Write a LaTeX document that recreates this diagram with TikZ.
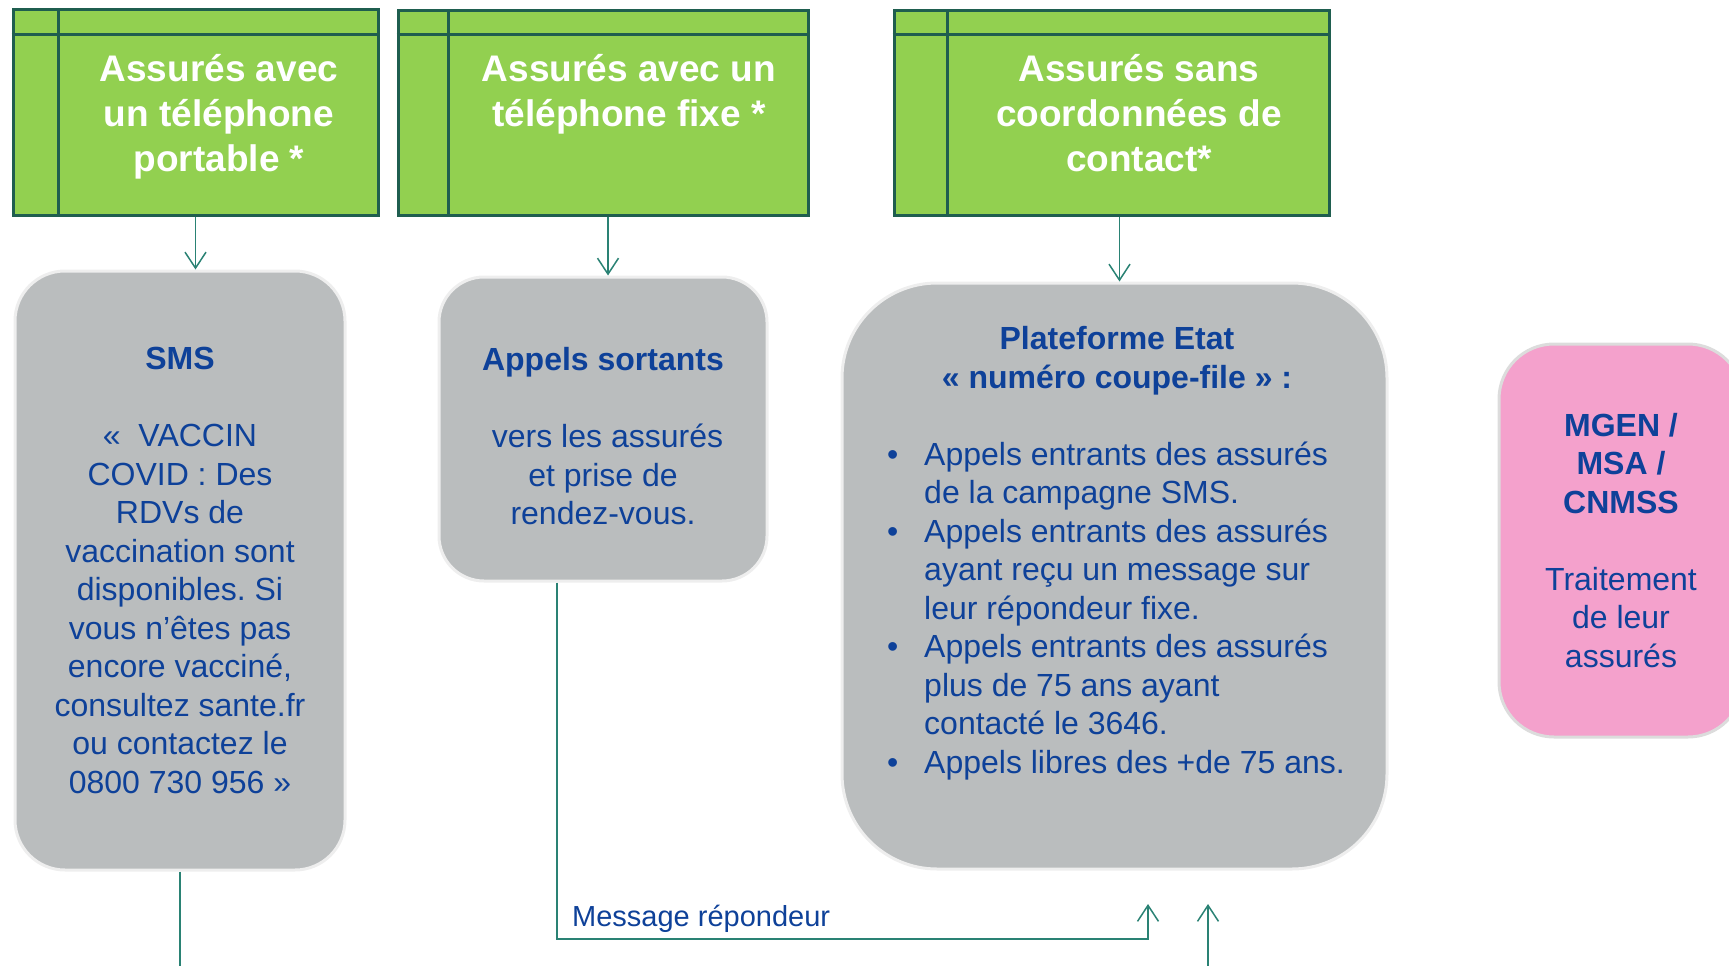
\documentclass[tikz,border=0pt]{standalone}
\usepackage{fontspec}
\setmainfont{Liberation Sans}
\usetikzlibrary{arrows.meta,positioning,calc}
\frenchspacing

\definecolor{hdrgreen}{HTML}{92D050}
\definecolor{hdrline}{HTML}{1F5E4F}
\definecolor{flowteal}{HTML}{2A8274}
\definecolor{boxgrey}{HTML}{BABDBE}
\definecolor{boxedge}{HTML}{EEEEEE}
\definecolor{boxpink}{HTML}{F4A1CC}
\definecolor{pinkedge}{HTML}{DCDCDC}
\definecolor{txtblue}{HTML}{0E4199}

\newcommand\hdrfont{\fontsize{37pt}{45pt}\selectfont\bfseries}
\newcommand\boxfont{\fontsize{32pt}{38.5pt}\selectfont}
\newcommand\msgfont{\fontsize{29pt}{35pt}\selectfont}

\begin{document}
\begin{tikzpicture}[
		x=1pt, y=-1pt,
		>={Straight Barb[length=16pt,width=21pt]},
		hdrbox/.style={
			draw=hdrline,
			fill=hdrgreen,
			line width=3pt,
			inner sep=0pt
		},
		hdrsep/.style={
			draw=hdrline,
			line width=3pt
		},
		hdrtext/.style={
			text=white,
			font=\hdrfont,
			align=center,
			anchor=north,
			inner sep=0pt
		},
		greybox/.style={
			draw=boxedge,
			fill=boxgrey,
			line width=3pt,
			inner sep=0pt,
			text=txtblue,
			font=\boxfont,
			align=center
		},
		pinkbox/.style={
			greybox,
			draw=pinkedge,
			fill=boxpink
		},
		flow/.style={
			->,
			draw=flowteal,
			line width=1.5pt
		},
		flowline/.style={
			draw=flowteal,
			line width=1.5pt
		}
		]
		\useasboundingbox (0,0) rectangle (1729,966);

		% en-tetes vertes
		\node[hdrbox, minimum width=365pt, minimum height=205pt] (g1) at (195.5,112.5) {};
		\draw[hdrsep] ([yshift=-26pt]g1.north west) -- ([yshift=-26pt]g1.north east);
		\draw[hdrsep] ([xshift=47pt]g1.north west) -- ([xshift=47pt]g1.south west);
		\node[hdrtext] (g1txt) at (219,54) {Assurés avec\\un téléphone\\portable *};

		\node[hdrbox, minimum width=410pt, minimum height=204pt] (g2) at (603,113) {};
		\draw[hdrsep] ([yshift=-25pt]g2.north west) -- ([yshift=-25pt]g2.north east);
		\draw[hdrsep] ([xshift=52pt]g2.north west) -- ([xshift=52pt]g2.south west);
		\node[hdrtext] (g2txt) at (629,54) {Assurés avec un\\téléphone fixe *};

		\node[hdrbox, minimum width=435pt, minimum height=204pt] (g3) at (1111.5,113) {};
		\draw[hdrsep] ([yshift=-25pt]g3.north west) -- ([yshift=-25pt]g3.north east);
		\draw[hdrsep] ([xshift=55pt]g3.north west) -- ([xshift=55pt]g3.south west);
		\node[hdrtext] (g3txt) at (1139,54) {Assurés sans\\coordonnées de\\contact*};

		% canaux
		\node[greybox, rounded corners=50pt, minimum width=330pt, minimum height=599pt] (sms) at (180,570.5)
			{\textbf{SMS}\\[38.5pt]«~~VACCIN\\COVID : Des\\RDVs de\\vaccination sont\\disponibles. Si\\vous n’êtes pas\\encore vacciné,\\consultez sante.fr\\ou contactez le\\0800 730 956 »};
		\node[greybox, rounded corners=45pt, minimum width=328pt, minimum height=304pt] (app) at (603,429)
			{\rule{0pt}{38pt}\textbf{Appels sortants}\\[38.5pt]\hspace*{9pt}vers les assurés\\et prise de\\rendez-vous.};
		\node[greybox, rounded corners=95pt, minimum width=545pt, minimum height=586pt] (plat) at (1114.5,576) {};
		\node[text=txtblue, font=\boxfont\bfseries, align=center, anchor=north, inner sep=0pt] (plattitle) at (1117,326.5)
			{Plateforme Etat\\« numéro coupe-file » :};
		\node[text=txtblue, font=\boxfont, anchor=north west, inner sep=0pt] (platlist) at (887,438)
			{\begin{tabular}{@{}p{37pt}@{}l@{}}
				\textbullet & Appels entrants des assurés\\
				 & de la campagne SMS.\\
				\textbullet & Appels entrants des assurés\\
				 & ayant reçu un message sur\\
				 & leur répondeur fixe.\\
				\textbullet & Appels entrants des assurés\\
				 & plus de 75 ans ayant\\
				 & contacté le 3646.\\
				\textbullet & Appels libres des +de 75 ans.
			\end{tabular}};
		\node[pinkbox, rounded corners=55pt, minimum width=244pt, minimum height=393pt] (pink) at (1621,540.5)
			{\textbf{MGEN /}\\\textbf{MSA /}\\\textbf{CNMSS}\\[38.5pt]Traitement\\de leur\\assurés};

		% liaisons
		\coordinate (smsend) at (180,975);
		\coordinate (bendA) at (1148,939);
		\coordinate (tipA) at (1148,904);
		\coordinate (tipB) at (1208,904);
		\coordinate (startB) at (1208,975);
		\draw[flow] (g1.south) -- (g1.south |- sms.north);
		\draw[flow] ([xshift=5pt]g2.south) -- ([xshift=5pt]g2.south |- app.north);
		\draw[flow] ([xshift=8pt]g3.south) -- ([xshift=8pt]g3.south |- plat.north);
		\draw[flowline] (sms.south) -- (smsend);
		\draw[flow] ([xshift=-46pt]app.south) |- (bendA) -- (tipA);
		\draw[flow] (startB) -- (tipB);
		\node[anchor=base west, inner sep=0pt, text=txtblue, font=\msgfont] (msg) at (572,926) {Message répondeur};
		\end{tikzpicture}
\end{document}
